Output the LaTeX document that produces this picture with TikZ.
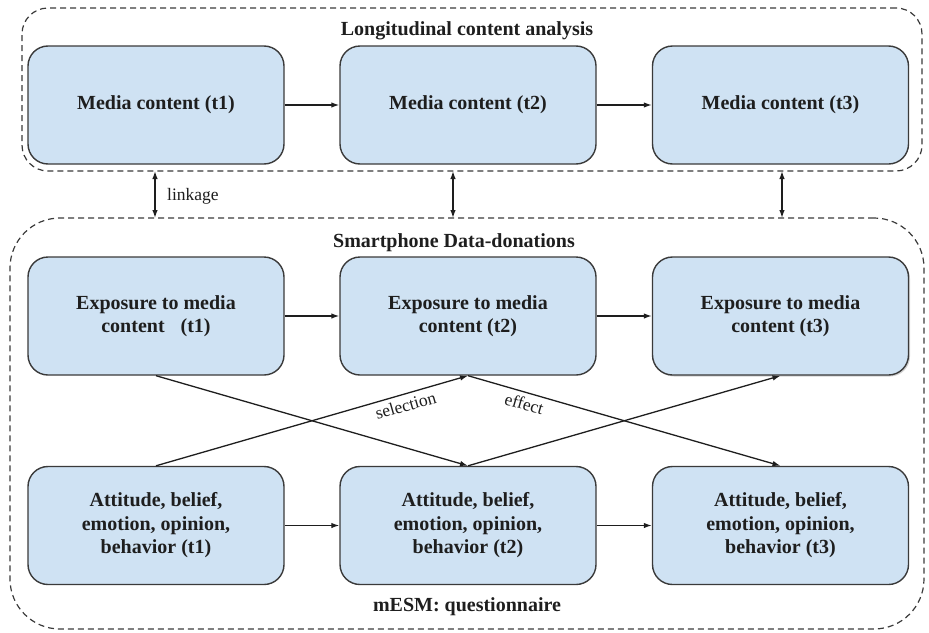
\documentclass[tikz,border=0pt]{standalone}
\usepackage{fontspec}
\setmainfont{Liberation Serif}
\usetikzlibrary{arrows.meta,shadows}
\definecolor{boxfill}{HTML}{CFE2F3}
\definecolor{boxline}{HTML}{3A3A3A}
\definecolor{txt}{HTML}{1E1E1E}
\begin{document}
\begin{tikzpicture}[x=1pt,y=-1pt,
  box/.style={draw=boxline, line width=1.4pt, fill=boxfill, rounded corners=20pt,
    minimum width=256pt, minimum height=118pt, align=center, text=txt,
    font=\bfseries\fontsize{20}{23.5}\selectfont, inner sep=0pt},
  container/.style={draw=boxline, dash pattern=on 6pt off 4pt, line width=1.2pt, inner sep=0pt},
  title/.style={font=\bfseries\fontsize{20}{23}\selectfont, text=txt, inner sep=0pt},
  lbl/.style={font=\fontsize{17.5}{20}\selectfont, text=txt, inner sep=2pt},
  slbl/.style={font=\fontsize{17.5}{20}\selectfont, text=txt, inner sep=4.5pt},
  arr/.style={draw=txt, line width=1.3pt, -{Latex[length=8pt,width=5.5pt]}},
  darr/.style={draw=txt, line width=1.3pt, {Latex[length=8pt,width=5.5pt]}-{Latex[length=8pt,width=5.5pt]}},
]
\useasboundingbox (0,0) rectangle (929,632);

% containers
\node[container, rounded corners=26pt, minimum width=900pt, minimum height=163pt] (topc) at (472,89.5) {};
\node[container, rounded corners=50pt, minimum width=914pt, minimum height=411pt] (botc) at (467,423.5) {};

% titles
\node[title] (t1title) at (467,31) {Longitudinal content analysis};
\node[title] (t2title) at (454,243) {Smartphone Data-donations};
\node[title] (t3title) at (467,607) {mESM: questionnaire};

% boxes
\node[box] (m1) at (156,105) {Media content (t1)};
\node[box] (m2) at (468,105) {Media content (t2)};
\node[box] (m3) at (780.5,105) {Media content (t3)};

\node[box] (e1) at (156,316) {Exposure to media\\content\hspace{0.55em} (t1)};
\node[box] (e2) at (468,316) {Exposure to media\\content (t2)};
\node[box, drop shadow={shadow xshift=1.5pt, shadow yshift=-1.5pt, opacity=0.35}] (e3) at (780.5,316) {Exposure to media\\content (t3)};

\node[box] (a1) at (156,525.5) {Attitude, belief,\\emotion, opinion,\\behavior (t1)};
\node[box] (a2) at (468,525.5) {Attitude, belief,\\emotion, opinion,\\behavior (t2)};
\node[box] (a3) at (780.5,525.5) {Attitude, belief,\\emotion, opinion,\\behavior (t3)};

% horizontal arrows
\draw[arr] (m1) -- (m2);
\draw[arr] (m2) -- (m3);
\draw[arr] (e1) -- (e2);
\draw[arr] (e2) -- (e3);
\draw[arr] (a1) -- (a2);
\draw[arr] (a2) -- (a3);

% linkage arrows
\coordinate (k1a) at (155,171);
\coordinate (k1b) at (155,218);
\coordinate (k2a) at (453,171);
\coordinate (k2b) at (453,218);
\coordinate (k3a) at (782,171);
\coordinate (k3b) at (782,218);
\draw[darr] (k1a) -- (k1b);
\draw[darr] (k2a) -- (k2b);
\draw[darr] (k3a) -- (k3b);
\node[lbl, anchor=west] (linklbl) at (165,196) {linkage};

% diagonal arrows
\draw[arr] (e1.south) -- (a2.north);
\draw[arr] (a1.north) -- node[slbl, sloped, below, pos=0.79] (sellbl) {selection} (e2.south);
\draw[arr] (e2.south) -- node[slbl, sloped, below, pos=0.19] (efflbl) {effect} (a3.north);
\draw[arr] (a2.north) -- (e3.south);
\end{tikzpicture}
\end{document}
